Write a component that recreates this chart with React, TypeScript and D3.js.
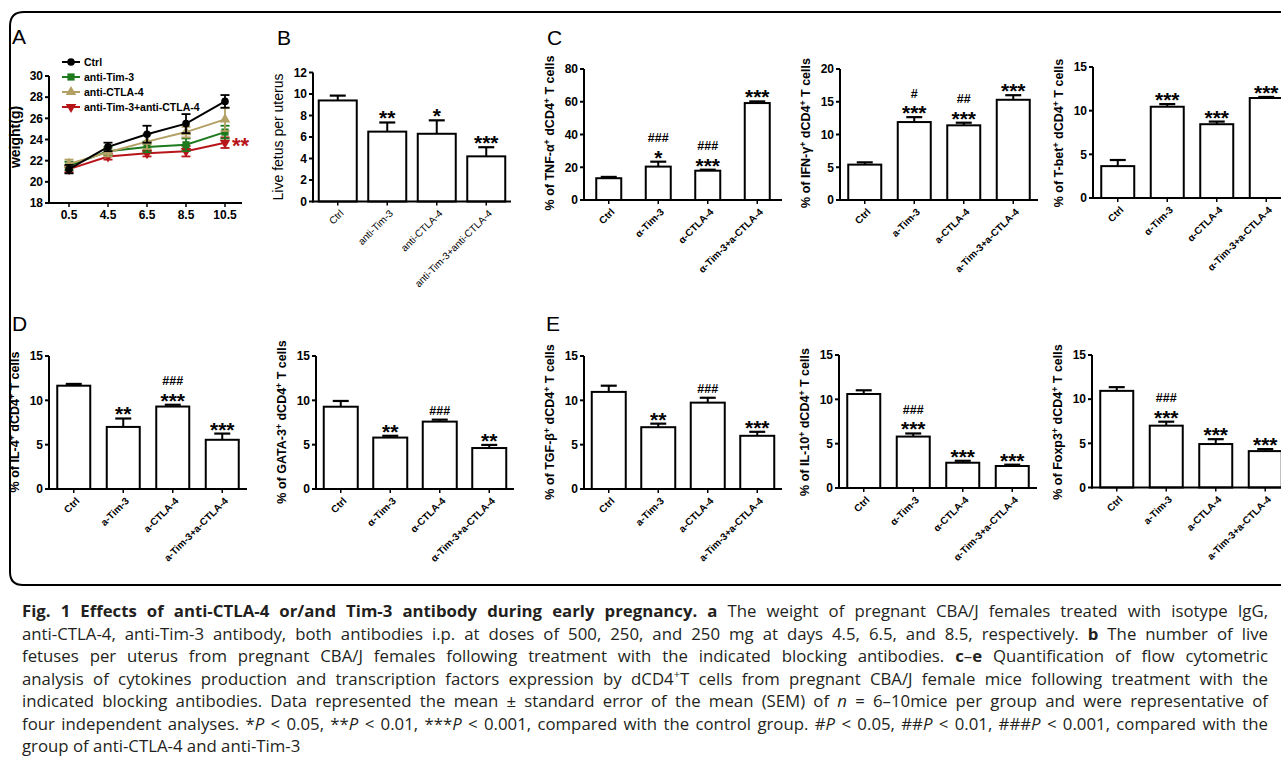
import React, { useLayoutEffect, useRef } from 'react';
import * as d3 from 'd3';

const FONT = "'Liberation Sans', Arial, Helvetica, sans-serif";
const CAP_FONT = "'Open Sans', 'Noto Sans', sans-serif";

// ---------- Panel A data ----------
const days = ['0.5', '4.5', '6.5', '8.5', '10.5'];
const weightSeries = ['Ctrl', 'anti-Tim-3', 'anti-CTLA-4', 'anti-Tim-3+anti-CTLA-4'];
const weightCtrl = [21.2, 23.3, 24.5, 25.5, 27.6];
const weightCtrlErr = [0.4, 0.4, 0.8, 0.9, 0.6];
const weightTim3 = [21.5, 22.9, 23.3, 23.5, 24.7];
const weightTim3Err = [0.4, 0.4, 0.5, 0.6, 0.6];
const weightCtla4 = [21.7, 22.8, 23.8, 24.7, 25.9];
const weightCtla4Err = [0.4, 0.4, 0.7, 0.5, 1.1];
const weightCombo = [21.2, 22.4, 22.7, 22.9, 23.7];
const weightComboErr = [0.3, 0.3, 0.3, 0.5, 0.5];
const weightTicks = [18, 20, 22, 24, 26, 28, 30];

// ---------- Panel B data ----------
const fetusCats = ['Ctrl', 'anti-Tim-3', 'anti-CTLA-4', 'anti-Tim-3+anti-CTLA-4'];
const fetusMean = [9.4, 6.5, 6.3, 4.2];
const fetusErr = [0.45, 0.85, 1.25, 0.85];
const fetusStars = ['', '**', '*', '***'];
const fetusHash = ['', '', '', ''];

// ---------- Category label sets ----------
const catsAlpha = ['Ctrl', 'α-Tim-3', 'α-CTLA-4', 'α-Tim-3+a-CTLA-4'];
const catsA = ['Ctrl', 'a-Tim-3', 'a-CTLA-4', 'a-Tim-3+a-CTLA-4'];

// ---------- Panel C ----------
const tnfMean = [13.3, 20.4, 17.9, 59.2];
const tnfErr = [0.8, 3.0, 0.6, 1.0];
const tnfStars = ['', '*', '***', '***'];
const tnfHash = ['', '###', '###', ''];

const ifnMean = [5.4, 11.9, 11.4, 15.3];
const ifnErr = [0.35, 0.75, 0.4, 0.7];
const ifnStars = ['', '***', '***', '***'];
const ifnHash = ['', '#', '##', ''];

const tbetMean = [3.65, 10.45, 8.45, 11.45];
const tbetErr = [0.7, 0.3, 0.3, 0.12];
const tbetStars = ['', '***', '***', '***'];
const tbetHash = ['', '', '', ''];

// ---------- Panel D ----------
const il4Mean = [11.65, 7.0, 9.3, 5.55];
const il4Err = [0.2, 0.95, 0.2, 0.7];
const il4Stars = ['', '**', '***', '***'];
const il4Hash = ['', '', '###', ''];

const gataMean = [9.28, 5.8, 7.6, 4.62];
const gataErr = [0.65, 0.2, 0.22, 0.35];
const gataStars = ['', '**', '', '**'];
const gataHash = ['', '', '###', ''];

// ---------- Panel E ----------
const tgfMean = [10.95, 6.97, 9.74, 6.0];
const tgfErr = [0.7, 0.4, 0.55, 0.45];
const tgfStars = ['', '**', '', '***'];
const tgfHash = ['', '', '###', ''];

const il10Mean = [10.6, 5.8, 2.85, 2.48];
const il10Err = [0.42, 0.35, 0.22, 0.15];
const il10Stars = ['', '***', '***', '***'];
const il10Hash = ['', '###', '', ''];

const foxMean = [10.94, 7.0, 4.92, 4.12];
const foxErr = [0.42, 0.45, 0.55, 0.23];
const foxStars = ['', '***', '***', '***'];
const foxHash = ['', '###', '', ''];

// ---------- Caption ----------
const captionLines: [string, string][][] = [
  [['Fig. 1 Effects of anti-CTLA-4 or/and Tim-3 antibody during early pregnancy.', 'b'], [' ', ''], ['a', 'b'], [' The weight of pregnant CBA/J females treated with isotype IgG,', '']],
  [['anti-CTLA-4, anti-Tim-3 antibody, both antibodies i.p. at doses of 500, 250, and 250 mg at days 4.5, 6.5, and 8.5, respectively. ', ''], ['b', 'b'], [' The number of live', '']],
  [['fetuses per uterus from pregnant CBA/J females following treatment with the indicated blocking antibodies. ', ''], ['c', 'b'], ['–', ''], ['e', 'b'], [' Quantification of flow cytometric', '']],
  [['analysis of cytokines production and transcription factors expression by dCD4', ''], ['+', 's'], ['T cells from pregnant CBA/J female mice following treatment with the', '']],
  [['indicated blocking antibodies. Data represented the mean ± standard error of the mean (SEM) of ', ''], ['n', 'i'], [' = 6–10mice per group and were representative of', '']],
  [['four independent analyses. *', ''], ['P', 'i'], [' < 0.05, **', ''], ['P', 'i'], [' < 0.01, ***', ''], ['P', 'i'], [' < 0.001, compared with the control group. #', ''], ['P', 'i'], [' < 0.05, ##', ''], ['P', 'i'], [' < 0.01, ###', ''], ['P', 'i'], [' < 0.001, compared with the', '']],
  [['group of anti-CTLA-4 and anti-Tim-3', '']],
];

const seriesColors = ['#000000', '#1d7a1d', '#b3a064', '#b8151b'];

function Title({ x, y, text, size, bold }: any) {
  const parts = text.split('^');
  return (
    <text transform={`translate(${x},${y}) rotate(-90)`} textAnchor="middle" dy="0.35em"
      fontFamily={FONT} fontSize={size} fontWeight={bold ? 'bold' : 'normal'} fill="#000">
      {parts.map((p: string, i: number) =>
        i % 2 === 1 ? (
          <tspan key={i} dy={-4.5} fontSize={size * 0.7}>{p}</tspan>
        ) : (
          <tspan key={i} dy={i === 0 ? 0 : 4.5}>{p}</tspan>
        )
      )}
    </text>
  );
}

function BarPanel({ cfg, cats, mean, err, stars, hashes, title }: any) {
  const x = d3.scaleBand().domain(cats).range([cfg.left, cfg.left + 198]);
  const y = d3.scaleLinear().domain([0, cfg.max]).range([cfg.y0, cfg.yTop]);
  const ticks = d3.range(0, cfg.max + 0.001, cfg.step);
  const bw = cfg.barW;
  const starFs = 21;
  return (
    <g>
      {mean.map((m: number, i: number) => {
        const cx = (x(cats[i]) as number) + x.bandwidth() / 2;
        const top = y(m);
        const et = y(m + err[i]);
        const starCenter = et - 9;
        const hashCenter = stars[i] ? starCenter - 15 : et - 9;
        return (
          <g key={i}>
            <line x1={cx} x2={cx} y1={top} y2={et} stroke="#000" strokeWidth={2} />
            <line x1={cx - 8} x2={cx + 8} y1={et} y2={et} stroke="#000" strokeWidth={2.2} />
            <rect x={cx - bw / 2} y={top} width={bw} height={cfg.y0 - top} fill="#fff" stroke="#000" strokeWidth={2} />
            {stars[i] && (
              <text x={cx} y={starCenter + 0.57 * starFs} textAnchor="middle" fontFamily={FONT} fontWeight="bold" fontSize={starFs} fill="#000">{stars[i]}</text>
            )}
            {hashes[i] && (
              <text x={cx} y={hashCenter + 4.5} textAnchor="middle" fontFamily={FONT} fontWeight="bold" fontSize={12.5} fill="#000">{hashes[i]}</text>
            )}
          </g>
        );
      })}
      <line x1={cfg.left} x2={cfg.left} y1={cfg.y0 + 1} y2={cfg.yTop} stroke="#000" strokeWidth={2} />
      <line x1={cfg.left - 1} x2={cfg.left + 198} y1={cfg.y0} y2={cfg.y0} stroke="#000" strokeWidth={2} />
      {ticks.map((t: number) => (
        <g key={t}>
          <line x1={cfg.left - 4} x2={cfg.left} y1={y(t)} y2={y(t)} stroke="#000" strokeWidth={2} />
          <text x={cfg.left - 6} y={y(t)} dy="0.36em" textAnchor="end" fontFamily={FONT} fontWeight="bold" fontSize={12}>{t}</text>
        </g>
      ))}
      {cats.map((c: string, i: number) => {
        const cx = (x(c) as number) + x.bandwidth() / 2;
        return (
          <g key={c}>
            <line x1={cx} x2={cx} y1={cfg.y0} y2={cfg.y0 + 4} stroke="#000" strokeWidth={1.5} />
            <text transform={`translate(${cx + 4},${cfg.y0 + 10}) rotate(-45)`} textAnchor="end" dy="0.35em"
              fontFamily={FONT} fontWeight={cfg.labelBold ? 'bold' : 'normal'} fontSize={10}>{c}</text>
          </g>
        );
      })}
      <Title x={cfg.left - 30} y={cfg.titleY} text={title} size={cfg.titleSize} bold={cfg.titleBold} />
    </g>
  );
}

function PanelA() {
  const x = d3.scalePoint().domain(days).range([69, 225]);
  const y = d3.scaleLinear().domain([18, 30]).range([203, 76]);
  const series = [
    { v: weightCombo, e: weightComboErr, c: seriesColors[3], sym: 'down' },
    { v: weightTim3, e: weightTim3Err, c: seriesColors[1], sym: 'square' },
    { v: weightCtla4, e: weightCtla4Err, c: seriesColors[2], sym: 'up' },
    { v: weightCtrl, e: weightCtrlErr, c: seriesColors[0], sym: 'circle' },
  ];
  const line = d3.line<number>().x((d, i) => x(days[i]) as number).y((d) => y(d));
  const marker = (sym: string, cx: number, cy: number, c: string, k: any) => {
    if (sym === 'circle') return <circle key={k} cx={cx} cy={cy} r={3.8} fill={c} />;
    if (sym === 'square') return <rect key={k} x={cx - 3.6} y={cy - 3.6} width={7.2} height={7.2} fill={c} />;
    const p = d3.symbol().type(d3.symbolTriangle).size(48)() as string;
    return <path key={k} d={p} transform={`translate(${cx},${cy}) rotate(${sym === 'down' ? 180 : 0})`} fill={c} />;
  };
  const legendSyms = ['circle', 'square', 'up', 'down'];
  return (
    <g>
      {series.map((s, si) => (
        <g key={si}>
          <path d={line(s.v) as string} fill="none" stroke={s.c} strokeWidth={2} />
          {s.v.map((v, i) => {
            const cx = x(days[i]) as number;
            return (
              <g key={i}>
                <line x1={cx} x2={cx} y1={y(v - s.e[i])} y2={y(v + s.e[i])} stroke={s.c} strokeWidth={1.8} />
                <line x1={cx - 4.5} x2={cx + 4.5} y1={y(v + s.e[i])} y2={y(v + s.e[i])} stroke={s.c} strokeWidth={1.8} />
                <line x1={cx - 4.5} x2={cx + 4.5} y1={y(v - s.e[i])} y2={y(v - s.e[i])} stroke={s.c} strokeWidth={1.8} />
                {marker(s.sym, cx, y(v), s.c, 'm' + i)}
              </g>
            );
          })}
        </g>
      ))}
      <line x1={49} x2={49} y1={204} y2={76} stroke="#000" strokeWidth={2} />
      <line x1={48} x2={242} y1={203} y2={203} stroke="#000" strokeWidth={2} />
      {weightTicks.map((t) => (
        <g key={t}>
          <line x1={45} x2={49} y1={y(t)} y2={y(t)} stroke="#000" strokeWidth={2} />
          <text x={43} y={y(t)} dy="0.36em" textAnchor="end" fontFamily={FONT} fontWeight="bold" fontSize={12}>{t}</text>
        </g>
      ))}
      {days.map((d) => (
        <g key={d}>
          <line x1={x(d)} x2={x(d)} y1={203} y2={207} stroke="#000" strokeWidth={1.5} />
          <text x={x(d)} y={219} textAnchor="middle" fontFamily={FONT} fontWeight="bold" fontSize={12}>{d}</text>
        </g>
      ))}
      <Title x={20} y={137} text="weight(g)" size={14} bold />
      {weightSeries.map((name, i) => (
        <g key={name}>
          <line x1={62} x2={80} y1={62 + i * 15} y2={62 + i * 15} stroke={seriesColors[i]} strokeWidth={2} />
          {marker(legendSyms[i], 71, 62 + i * 15, seriesColors[i], 'l' + i)}
          <text x={84} y={62 + i * 15} dy="0.36em" fontFamily={FONT} fontWeight="bold" fontSize={10.5}>{name}</text>
        </g>
      ))}
      <text x={232} y={140 + 0.57 * 22} fontFamily={FONT} fontWeight="bold" fontSize={22} fill={seriesColors[3]}>**</text>
    </g>
  );
}

function Caption() {
  const refs = useRef<(SVGTextElement | null)[]>([]);
  useLayoutEffect(() => {
    captionLines.forEach((segs, li) => {
      const el = refs.current[li];
      if (!el || li >= 6) return;
      el.setAttribute('word-spacing', '0');
      const len = el.getComputedTextLength();
      const str = segs.map((s) => s[0]).join('');
      const n = (str.match(/ /g) || []).length;
      if (n > 0) el.setAttribute('word-spacing', String((1246 - len) / n));
    });
  }, []);
  return (
    <g>
      {captionLines.map((segs, li) => (
        <text key={li} ref={(e) => { refs.current[li] = e; }} x={22} y={617 + li * 22.5}
          fontFamily={CAP_FONT} fontSize={16.8} fill="#231f20">
          {segs.map(([t, s], si) => (
            <tspan key={si}
              fontWeight={s === 'b' ? 'bold' : 'normal'}
              fontStyle={s === 'i' ? 'italic' : 'normal'}
              baselineShift={s === 's' ? 'super' : undefined}
              fontSize={s === 's' ? 11 : undefined}>{t}</tspan>
          ))}
        </text>
      ))}
    </g>
  );
}

const topRow = { y0: 200, yTop: 69, titleY: 133, titleSize: 12.5, titleBold: true, labelBold: true };
const botRow = { y0: 489, yTop: 356, titleY: 422, titleSize: 12.5, titleBold: true, labelBold: true };

export default function App() {
  return (
    <svg width={1281} height={778} style={{ position: 'absolute', left: 0, top: 0, background: '#fff' }}>
      <rect x={0} y={0} width={1281} height={778} fill="#fff" />
      <path d="M 1300 12 H 24 Q 10 12 10 26 V 572 Q 10 585 23 585 H 1300" fill="none" stroke="#000" strokeWidth={2} />
      {[['A', 12, 44], ['B', 277, 45], ['C', 547, 45], ['D', 12, 331], ['E', 546, 331]].map(([t, px, py]: any) => (
        <text key={t} x={px} y={py} fontFamily={FONT} fontSize={21} fill="#000">{t}</text>
      ))}
      <PanelA />
      <BarPanel cfg={{ left: 313, y0: 201.5, yTop: 72.5, max: 12, step: 2, barW: 38, titleY: 137, titleSize: 14, titleBold: false, labelBold: false }}
        cats={fetusCats} mean={fetusMean} err={fetusErr} stars={fetusStars} hashes={fetusHash} title="Live fetus per uterus" />
      <BarPanel cfg={{ ...topRow, left: 584, max: 80, step: 20, barW: 25 }}
        cats={catsAlpha} mean={tnfMean} err={tnfErr} stars={tnfStars} hashes={tnfHash} title="% of TNF-α^+^ dCD4^+^ T cells" />
      <BarPanel cfg={{ ...topRow, left: 840, max: 20, step: 5, barW: 33 }}
        cats={catsA} mean={ifnMean} err={ifnErr} stars={ifnStars} hashes={ifnHash} title="% of IFN-γ^+^ dCD4^+^ T cells" />
      <BarPanel cfg={{ ...topRow, left: 1093, y0: 198, yTop: 67, max: 15, step: 5, barW: 33 }}
        cats={catsAlpha} mean={tbetMean} err={tbetErr} stars={tbetStars} hashes={tbetHash} title="% of T-bet^+^ dCD4^+^ T cells" />
      <BarPanel cfg={{ ...botRow, left: 49, max: 15, step: 5, barW: 33 }}
        cats={catsA} mean={il4Mean} err={il4Err} stars={il4Stars} hashes={il4Hash} title="% of IL-4^+^ dCD4^+^ T cells" />
      <BarPanel cfg={{ ...botRow, left: 316, max: 15, step: 5, barW: 34 }}
        cats={catsAlpha} mean={gataMean} err={gataErr} stars={gataStars} hashes={gataHash} title="% of GATA-3^+^ dCD4^+^ T cells" />
      <BarPanel cfg={{ ...botRow, left: 584, max: 15, step: 5, barW: 34 }}
        cats={catsA} mean={tgfMean} err={tgfErr} stars={tgfStars} hashes={tgfHash} title="% of TGF-β^+^ dCD4^+^ T cells" />
      <BarPanel cfg={{ ...botRow, left: 839, y0: 488, yTop: 355, max: 15, step: 5, barW: 33 }}
        cats={catsAlpha} mean={il10Mean} err={il10Err} stars={il10Stars} hashes={il10Hash} title="% of IL-10^+^ dCD4^+^ T cells" />
      <BarPanel cfg={{ ...botRow, left: 1092, y0: 487.5, yTop: 355, max: 15, step: 5, barW: 33 }}
        cats={catsA} mean={foxMean} err={foxErr} stars={foxStars} hashes={foxHash} title="% of Foxp3^+^ dCD4^+^ T cells" />
      <Caption />
    </svg>
  );
}
